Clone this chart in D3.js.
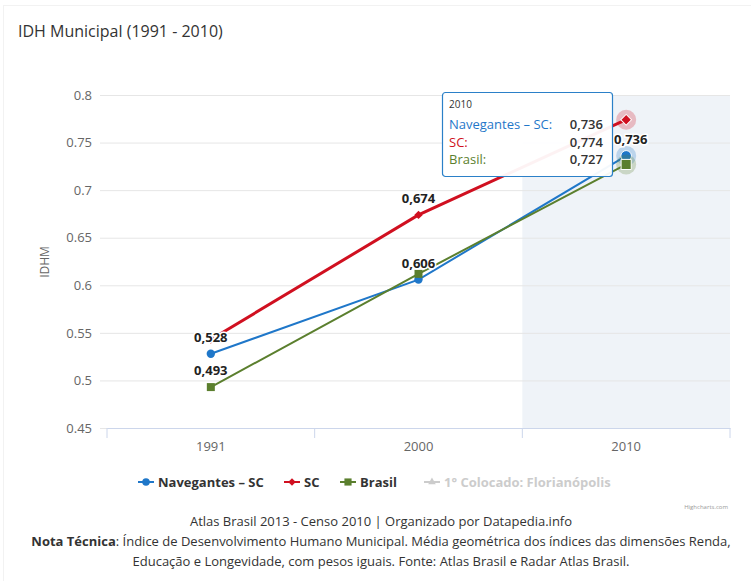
<!DOCTYPE html>
<html><head><meta charset="utf-8">
<script src="https://cdn.jsdelivr.net/npm/d3@7"></script>
<style>body{margin:0;background:#fff}svg{display:block;font-family:"Open Sans",sans-serif}</style>
</head><body><svg id="c" width="751" height="581"></svg>
<script>
const years = ["1991","2000","2010"];
const navegantes = [0.528, 0.606, 0.736];
const sc = [0.543, 0.674, 0.774];
const brasil = [0.493, 0.612, 0.727];
const yTicks = [0.45, 0.5, 0.55, 0.6, 0.65, 0.7, 0.75, 0.8];
const seriesNames = ["Navegantes – SC", "SC", "Brasil", "1° Colocado: Florianópolis"];

const series = [
  {name: seriesNames[0], values: navegantes, color: "#1f77c9", width: 2, symbol: d3.symbolCircle, size: 55, rot: 0},
  {name: seriesNames[1], values: sc, color: "#d01020", width: 3, symbol: d3.symbolSquare, size: 36, rot: 45},
  {name: seriesNames[2], values: brasil, color: "#5b7f2e", width: 2, symbol: d3.symbolSquare, size: 64, rot: 0}
];
// labels visible in the chart: [seriesIndex, pointIndex, anchor offset]
const shownLabels = [[0,0],[2,0],[1,1],[0,1],[0,2]];

const svg = d3.select("#c");
const L = 107, R = 730, T = 95, B = 428;
const x = d3.scaleBand().domain(years).range([L, R]);
const y = d3.scaleLinear().domain([0.45, 0.8]).range([B, T]);
const cx = d => x(d) + x.bandwidth()/2;
const fmt = v => d3.format(".3f")(v).replace(".", ",");

// container border
svg.append("rect").attr("x",3.5).attr("y",5.5).attr("width",760).attr("height",600)
  .attr("fill","none").attr("stroke","#f2f2f2");

// title
svg.append("text").attr("x",18).attr("y",37).attr("font-size",16).attr("fill","#333")
  .text("IDH Municipal (1991 - 2010)");

// hover band
svg.append("rect").attr("x", x("2010")).attr("y", T).attr("width", x.bandwidth()).attr("height", B - T)
  .attr("fill", "#eff3f8");

// grid
const yAxis = d3.axisLeft(y).tickValues(yTicks).tickSize(-(R - 100)).tickFormat(d => String(d));
const gy = svg.append("g").attr("transform", `translate(100,0)`).call(yAxis);
gy.select(".domain").remove();
gy.selectAll(".tick line").attr("stroke", "#e6e6e6");
gy.selectAll(".tick text").attr("x", -8).attr("font-size", 13).attr("fill", "#666").attr("font-family","Open Sans");

svg.append("text").attr("transform", "translate(49,262) rotate(-90)").attr("text-anchor","middle")
  .attr("font-size", 12).attr("fill", "#666").text("IDHM");

// x axis
const gx = svg.append("g").attr("transform", `translate(0,${B})`)
  .call(d3.axisBottom(x).tickSize(0).tickPadding(14));
gx.select(".domain").attr("stroke", "#ccd6eb");
gx.selectAll(".tick text").attr("font-size", 13).attr("fill", "#666").attr("font-family","Open Sans");
const bounds = [L, ...years.map(d => x(d) + x.bandwidth())];
gx.selectAll("line.sep").data(bounds).join("line").attr("class","sep")
  .attr("x1", d => d).attr("x2", d => d).attr("y1", 0).attr("y2", 10).attr("stroke", "#ccd6eb");

// lines
const line = d3.line().x((d,i) => cx(years[i])).y(d => y(d));
series.forEach(s => {
  svg.append("path").datum(s.values).attr("d", line).attr("fill","none")
    .attr("stroke", s.color).attr("stroke-width", s.width);
});
// markers
series.forEach(s => {
  s.values.forEach((v,i) => {
    const last = i === years.length - 1;
    if (last) {
      svg.append("circle").attr("cx", cx(years[i])).attr("cy", y(v)).attr("r", 10)
        .attr("fill", s.color).attr("fill-opacity", 0.25);
    }
    svg.append("path").attr("d", d3.symbol(s.symbol, last ? s.size*1.6 : s.size)())
      .attr("transform", `translate(${cx(years[i])},${y(v)}) rotate(${s.rot})`)
      .attr("fill", s.color).attr("stroke", last ? "#fff" : "none").attr("stroke-width", 1);
  });
});

// tooltip geometry
const TX = 442, TY = 92, TW = 170, TH = 84;

// data labels
shownLabels.forEach(([si, pi]) => {
  const v = series[si].values[pi];
  const px = cx(years[pi]);
  const t = svg.append("text").attr("y", y(v) - 12)
    .attr("font-size", 13).attr("font-weight","bold").attr("fill","#222")
    .attr("stroke","#fff").attr("stroke-width",3).attr("paint-order","stroke")
    .text(fmt(v));
  // the label under the tooltip is nudged just right of the tooltip box
  if (px - 20 < TX + TW && y(v) - 12 < TY + TH) t.attr("x", TX + TW + 2).attr("text-anchor","start");
  else t.attr("x", px).attr("text-anchor","middle");
});

// tooltip
const tt = svg.append("g").attr("transform",`translate(${TX},${TY})`);
tt.append("rect").attr("x",0.5).attr("y",0.5).attr("width",TW).attr("height",TH).attr("rx",3)
  .attr("fill","#fff").attr("fill-opacity",0.95).attr("stroke","#2b80c8").attr("stroke-width",1.2);
tt.append("text").attr("x",7).attr("y",16).attr("font-size",10).attr("fill","#333").text(years[2]);
series.forEach((s,i) => {
  tt.append("text").attr("x",7).attr("y",37 + i*17.5).attr("font-size",13).attr("fill",s.color)
    .text(s.name + ":");
  tt.append("text").attr("x",161).attr("y",37 + i*17.5).attr("font-size",13).attr("text-anchor","end")
    .attr("fill","#333").attr("font-weight","600").text(fmt(s.values[2]));
});

// legend
const legendX = [138, 284, 340, 424];
const lg = svg.append("g").attr("transform","translate(0,482)");
seriesNames.forEach((n,i) => {
  const g = lg.append("g").attr("transform", `translate(${legendX[i]},0)`);
  const s = series[i];
  const col = s ? s.color : "#ccc";
  g.append("line").attr("x1",0).attr("x2",16).attr("y1",0).attr("y2",0).attr("stroke",col).attr("stroke-width",2);
  g.append("path").attr("d", d3.symbol(s ? s.symbol : d3.symbolTriangle, s ? s.size*0.8 : 25)())
    .attr("transform",`translate(8,0) rotate(${s ? s.rot : 0})`).attr("fill",col);
  g.append("text").attr("x",20).attr("y",4.5).attr("font-size",13).attr("font-weight","bold")
    .attr("fill", s ? "#333" : "#ccc").text(n);
});

// credits
svg.append("text").attr("x",728).attr("y",509).attr("text-anchor","end").attr("font-size",6)
  .attr("fill","#999").text("Highcharts.com");

// footer
const f1 = svg.append("text").attr("x",381).attr("y",526).attr("text-anchor","middle").attr("font-size",13).attr("fill","#333");
f1.append("tspan").text("Atlas Brasil 2013 - Censo 2010 | Organizado por Datapedia.info");
const f2 = svg.append("text").attr("x",381).attr("y",546).attr("text-anchor","middle").attr("font-size",13).attr("fill","#333");
f2.append("tspan").attr("font-weight","bold").text("Nota Técnica");
f2.append("tspan").text(": Índice de Desenvolvimento Humano Municipal. Média geométrica dos índices das dimensões Renda,");
const f3 = svg.append("text").attr("x",381).attr("y",566).attr("text-anchor","middle").attr("font-size",13).attr("fill","#333");
f3.append("tspan").text("Educação e Longevidade, com pesos iguais. Fonte: Atlas Brasil e Radar Atlas Brasil.");
</script></body></html>
